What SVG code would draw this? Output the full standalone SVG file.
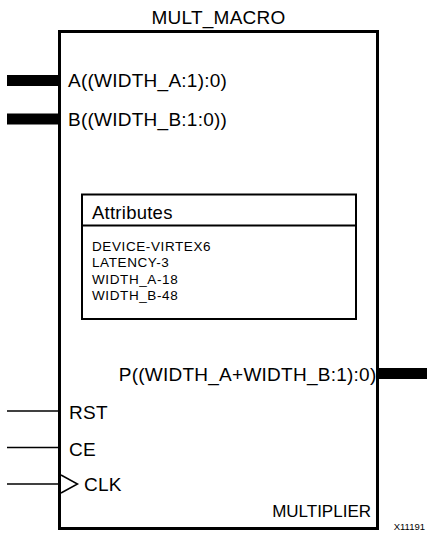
<svg xmlns="http://www.w3.org/2000/svg" width="427" height="548" viewBox="0 0 427 548">
<style>
text{font-family:"Liberation Sans",Arial,sans-serif;fill:#000}
.big{font-size:19px;letter-spacing:0.25px}
.small{font-size:13.5px;letter-spacing:0.6px}
.bus{stroke:#000;stroke-width:11;fill:none}
.wire{stroke:#000;stroke-width:1.5;fill:none}
</style>
<rect width="427" height="548" fill="#fff"/>
<g id="connectors">
<line class="bus" x1="7" y1="80.5" x2="59" y2="80.5"/>
<line class="bus" x1="7" y1="119" x2="59" y2="119"/>
<line class="bus" x1="378" y1="373.5" x2="427" y2="373.5"/>
<line class="wire" x1="7" y1="411" x2="59" y2="411"/>
<line class="wire" x1="7" y1="447.5" x2="59" y2="447.5"/>
<line class="wire" x1="7" y1="484" x2="59" y2="484"/>
</g>
<g id="mult_macro">
<text class="big" x="218.5" y="24" text-anchor="middle">MULT_MACRO</text>
<rect x="59.5" y="31.5" width="318" height="497" fill="none" stroke="#000" stroke-width="3"/>
<text class="big" x="68" y="87">A((WIDTH_A:1):0)</text>
<text class="big" x="68" y="126">B((WIDTH_B:1:0))</text>
<text class="big" x="376.5" y="380.5" text-anchor="end">P((WIDTH_A+WIDTH_B:1):0)</text>
<text class="big" x="69" y="419">RST</text>
<text class="big" x="69" y="455.5">CE</text>
<polyline points="61,475 77.5,484 61,493" fill="none" stroke="#000" stroke-width="1.5"/>
<text class="big" x="84" y="490.5">CLK</text>
<text x="371" y="516.5" text-anchor="end" style="font-size:17px">MULTIPLIER</text>
</g>
<g id="attributes">
<rect x="82" y="194.5" width="274" height="124.5" fill="none" stroke="#000" stroke-width="2"/>
<line x1="82" y1="225.5" x2="356" y2="225.5" stroke="#000" stroke-width="2"/>
<text class="big" x="92" y="219" style="font-size:18.5px">Attributes</text>
<text class="small" x="92" y="250.5">DEVICE-VIRTEX6</text>
<text class="small" x="92" y="267">LATENCY-3</text>
<text class="small" x="92" y="283.5">WIDTH_A-18</text>
<text class="small" x="92" y="300">WIDTH_B-48</text>
</g>
<text x="425" y="530" text-anchor="end" style="font-size:9.5px">X11191</text>
</svg>
